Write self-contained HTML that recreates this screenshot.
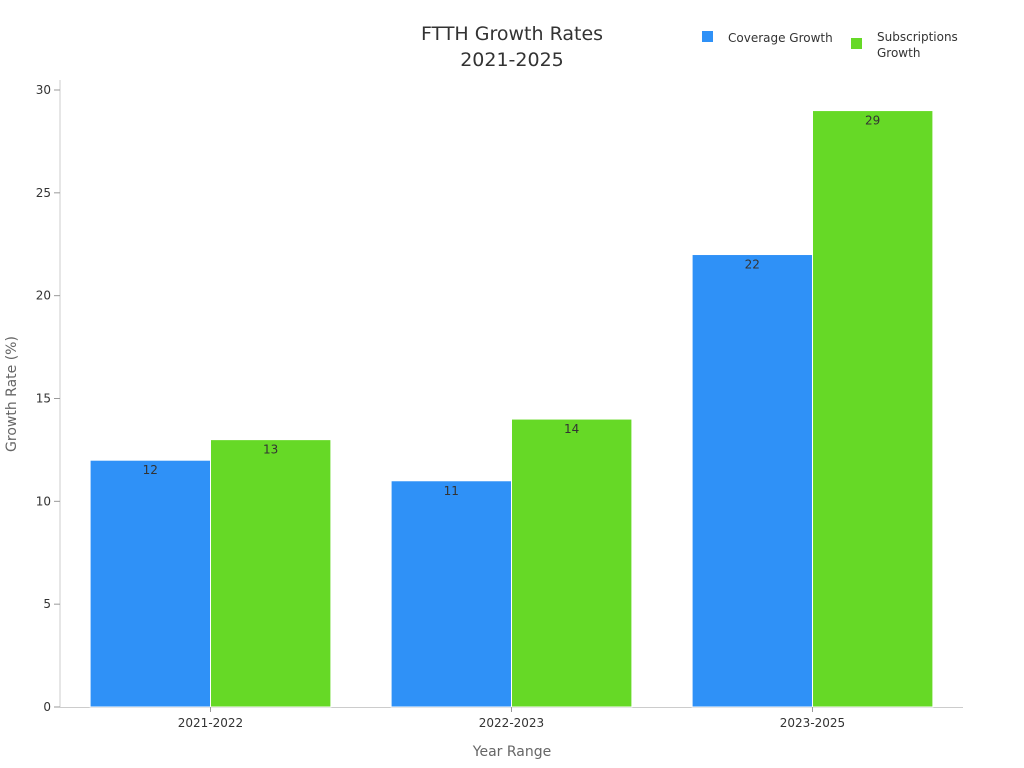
<!DOCTYPE html>
<html><head><meta charset="utf-8"><style>
body{margin:0;background:#fff;}
svg{display:block;font-family:"DejaVu Sans","Liberation Sans",sans-serif;}
</style></head><body>
<svg id="chart" width="1024" height="768">
<text x="512" y="40" text-anchor="middle" font-size="19" fill="#333"><tspan x="512">FTTH Growth Rates</tspan><tspan x="512" dy="26">2021-2025</tspan></text>
<g>
<g><rect x="702" y="31" width="11" height="11" fill="#2f91f7"/><text x="728" y="42" font-size="12" fill="#333">Coverage Growth</text></g>
<g><rect x="851" y="38" width="11" height="11" fill="#66d926"/><text x="877" y="41" font-size="12" fill="#333">Subscriptions</text><text x="877" y="57" font-size="12" fill="#333">Growth</text></g>
</g>
<text transform="translate(16,394) rotate(-90)" text-anchor="middle" font-size="14" fill="#666">Growth Rate (%)</text>
<text x="512" y="756" text-anchor="middle" font-size="14" fill="#666">Year Range</text>
<g id="plot"></g>
</svg>
<script>
const categories=["2021-2022","2022-2023","2023-2025"];
const coverage=[12,11,22];
const subscriptions=[13,14,29];
const yTicks=[0,5,10,15,20,25,30];
const NS="http://www.w3.org/2000/svg";
const g=document.getElementById('plot');
const x0=60,x1=963,yBase=707,yTop=90,yMax=30;
const y=v=>yBase-(v/yMax)*(yBase-yTop);
const band=(x1-x0)/categories.length;
const bx=i=>x0+i*band;
function mk(t,a){const e=document.createElementNS(NS,t);for(const k in a)e.setAttribute(k,a[k]);g.appendChild(e);return e;}
let ax=mk('line',{x1:x0,y1:80,x2:x0,y2:yBase,stroke:'#ccc'});


let ax2=mk('line',{x1:x0,y1:yBase+0.5,x2:x1,y2:yBase+0.5,stroke:'#ccc'});


yTicks.forEach(t=>{
 let l=mk('line',{x1:x0-6,y1:y(t),x2:x0,y2:y(t),stroke:'#999'});
 
 
 let tx=mk('text',{x:x0-9,y:y(t)+4,'text-anchor':'end','font-size':12,fill:'#333'});
 tx.textContent=t;
 
 
});
const bw=band*0.4;
categories.forEach((c,i)=>{
 const start=bx(i)+band*0.1;
 [[coverage,'#2f91f7','coverage'],[subscriptions,'#66d926','subscriptions']].forEach(([arr,col,nm],j)=>{
  const v=arr[i],xx=start+j*bw;
  let r=mk('rect',{x:xx,y:y(v),width:bw,height:yBase-y(v),fill:col,stroke:'#fff','stroke-width':1});
  
  
  let t=mk('text',{x:xx+bw/2,y:y(v)+14,'text-anchor':'middle','font-size':12,fill:'#333'});
  t.textContent=v;
  
  
 });
 let tk=mk('line',{x1:bx(i)+band/2,y1:yBase,x2:bx(i)+band/2,y2:yBase+5,stroke:'#999'});
 
 
 let lt=mk('text',{x:bx(i)+band/2,y:yBase+20,'text-anchor':'middle','font-size':12,fill:'#333'});
 lt.textContent=c;
 
 
});
</script>
</body></html>
